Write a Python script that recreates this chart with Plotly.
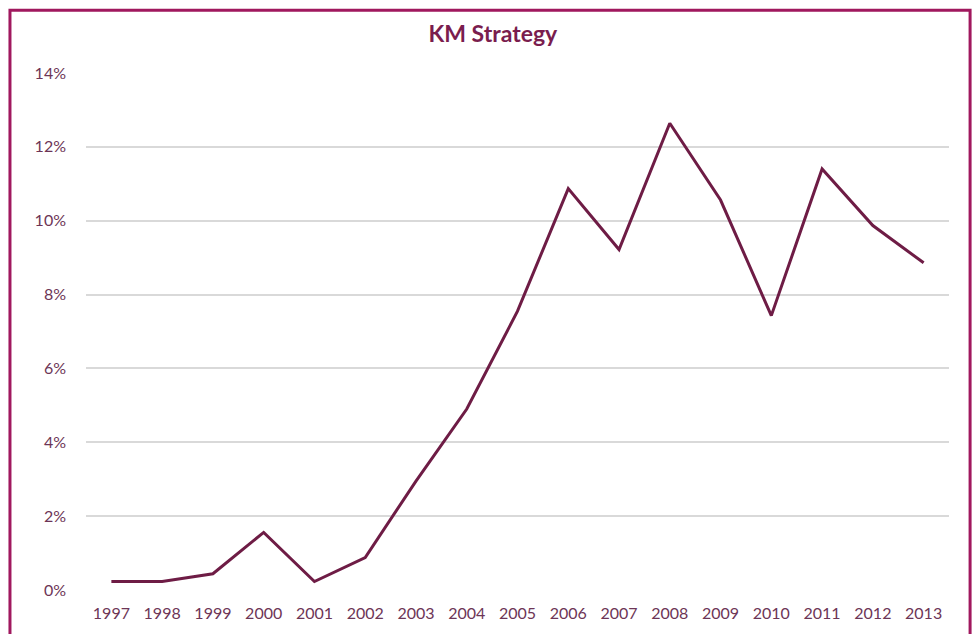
import plotly.graph_objects as go

years = ["1997", "1998", "1999", "2000", "2001", "2002", "2003", "2004", "2005",
         "2006", "2007", "2008", "2009", "2010", "2011", "2012", "2013"]
km_strategy = [0.23, 0.23, 0.44, 1.56, 0.23, 0.88, 2.95, 4.90, 7.55,
               10.87, 9.22, 12.64, 10.56, 7.43, 11.40, 9.87, 8.86]
y_ticks = [0, 2, 4, 6, 8, 10, 12, 14]
y_tick_labels = ["0%", "2%", "4%", "6%", "8%", "10%", "12%", "14%"]

LINE = "#6e1c45"
TEXT = "#6d3556"
TITLE = "#7a1d4e"
BORDER = "#a0185e"
GRID = "#d9d9d9"
FONT = "Lato, 'Open Sans', sans-serif"

fig = go.Figure()
fig.add_trace(go.Scatter(x=years, y=km_strategy, mode="lines",
                         line=dict(color=LINE, width=3), showlegend=False))

L, R, T, B = 85.6, 24.6, 72.5, 41.7
W, H = 974, 634
pw, ph = W - L - R, H - T - B

fig.update_layout(
    width=W, height=H,
    margin=dict(l=L, r=R, t=T, b=B, pad=0),
    paper_bgcolor="white", plot_bgcolor="white",
    title=dict(text="<b>KM Strategy</b>", x=0.506, xanchor="center",
               y=1 - 34 / H, yanchor="middle", yref="container",
               font=dict(family=FONT, size=23, color=TITLE)),
    font=dict(family=FONT, size=16, color=TEXT),
    xaxis=dict(type="category", range=[-0.5, 16.5], showgrid=False,
               showline=False, zeroline=False, ticks="",
               tickfont=dict(family=FONT, size=16, color=TEXT),
               ticklabelstandoff=12),
    yaxis=dict(range=[0, 14], tickmode="array", tickvals=y_ticks,
               ticktext=y_tick_labels,
               showgrid=True, gridcolor=GRID, gridwidth=1.5,
               zeroline=False, showline=False, ticks="",
               tickfont=dict(family=FONT, size=16, color=TEXT),
               ticklabelstandoff=19),
    shapes=[dict(type="rect", xref="paper", yref="paper",
                 x0=(9.5 - L) / pw, x1=(970.5 - L) / pw,
                 y0=-0.3, y1=(H - B - 9.5) / ph,
                 line=dict(color=BORDER, width=3), fillcolor="rgba(0,0,0,0)",
                 layer="above")],
)

fig.write_html("out.html", config={"displayModeBar": False},
               post_script="document.body.style.margin='0';")
